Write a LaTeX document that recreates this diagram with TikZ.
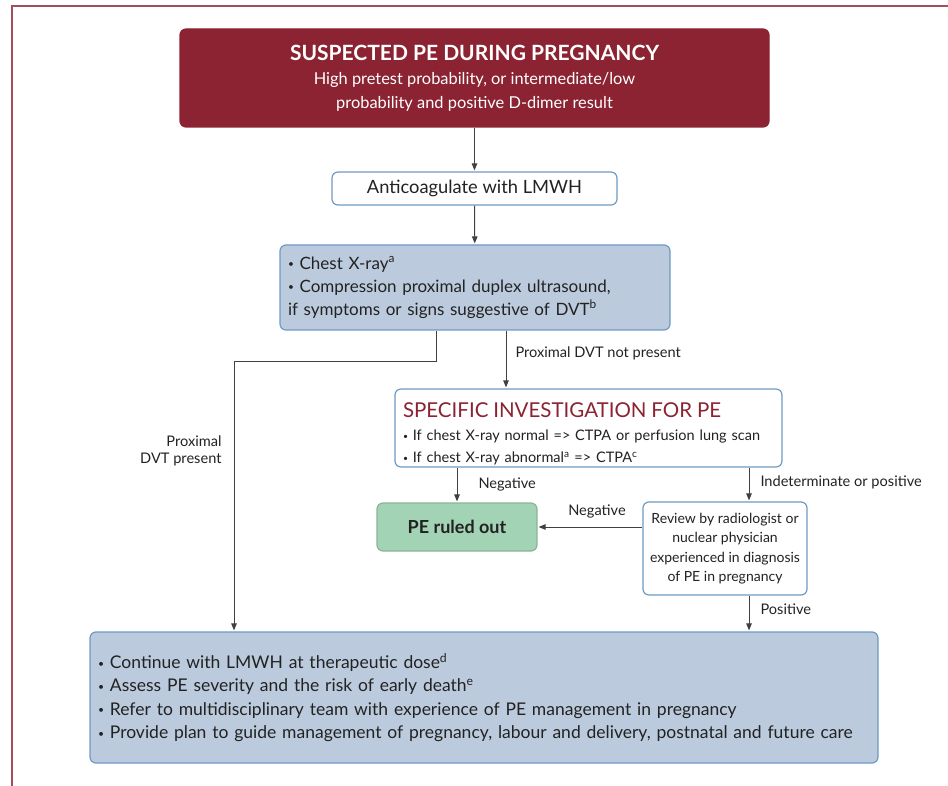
\documentclass[tikz,border=0pt]{standalone}
\usepackage{fontspec}
\setmainfont{Lato}
\usetikzlibrary{arrows.meta}
\definecolor{pered}{HTML}{8C2332}
\definecolor{peblue}{HTML}{BBCBDD}
\definecolor{peline}{HTML}{6E9BC4}
\definecolor{pegreen}{HTML}{A3D3B5}
\definecolor{petext}{HTML}{222222}
\newcommand{\pebul}{\raisebox{0.15ex}{\scalebox{0.6}{\textbullet}}\ }

\begin{document}
\begin{tikzpicture}[x=1pt,y=-1pt,shorten >=1pt,->,>={Triangle[length=7pt,width=5.5pt]},draw=black!75,line width=1pt]
    \tikzstyle{box}=[rectangle,rounded corners=6pt,draw=peline,line width=1.2pt,inner sep=0pt,text=petext]
    \tikzstyle{red box}=[box,fill=pered,draw=pered,text=white]
    \tikzstyle{white box}=[box,fill=white]
    \tikzstyle{blue box}=[box,fill=peblue]
    \tikzstyle{green box}=[box,fill=pegreen,draw=pegreen!85!black]
    \tikzstyle{annot}=[font=\fontsize{14.6}{17}\selectfont,text=petext,inner sep=0pt]

    \useasboundingbox (0,0) rectangle (948,786);
    % Draw the frame
    \draw[-,shorten >=0pt,draw=pered!80,line width=1.2pt] (12,786) -- (12,6) -- (948,6);

    % Draw the boxes
    \node[red box,minimum width=589,minimum height=98,align=center,font=\fontsize{16.4}{24}\selectfont] (suspect) at (474.5,78)
        {{\fontsize{21}{24}\selectfont\bfseries SUSPECTED PE DURING PREGNANCY}\\
         High pretest probability, or intermediate/low\\
         probability and positive D-dimer result};
    \node[white box,minimum width=285,minimum height=33,font=\fontsize{18.3}{20}\selectfont] (anticoag) at (474.5,188.5)
        {Anticoagulate with LMWH};
    \node[blue box,minimum width=390,minimum height=85,text width=374,align=left,font=\fontsize{17}{23}\selectfont] (xray) at (475,287.5)
        {\pebul Chest X-ray\textsuperscript{a}\\
         \pebul Compression proximal duplex ultrasound,\\
         if symptoms or signs suggestive of DVT\textsuperscript{b}};
    \node[white box,minimum width=387,minimum height=78,text width=371,align=left,font=\fontsize{14.5}{22.5}\selectfont] (spec) at (588.5,428)
        {\rule{0pt}{27pt}{\fontsize{20.5}{22}\selectfont\color{pered} SPECIFIC INVESTIGATION FOR PE}\\
         \pebul If chest X-ray normal => CTPA or perfusion lung scan\\
         \pebul If chest X-ray abnormal\textsuperscript{a} => CTPA\textsuperscript{c}};
    \node[green box,minimum width=160,minimum height=48,font=\fontsize{18}{20}\selectfont\bfseries] (ruled) at (457,527)
        {PE ruled out};
    \node[white box,minimum width=164,minimum height=93,align=center,font=\fontsize{14}{19.5}\selectfont] (review) at (725,548.5)
        {Review by radiologist or\\nuclear physician\\experienced in diagnosis\\of PE in pregnancy};
    \node[blue box,minimum width=788,minimum height=131,text width=772,align=left,font=\fontsize{17.5}{23.4}\selectfont] (manage) at (484,697.5)
        {\pebul Continue with LMWH at therapeutic dose\textsuperscript{d}\\
         \pebul Assess PE severity and the risk of early death\textsuperscript{e}\\
         \pebul Refer to multidisciplinary team with experience of PE management in pregnancy\\
         \pebul Provide plan to guide management of pregnancy, labour and delivery, postnatal and future care};

    % Connector end points
    \coordinate (xr-l) at ([xshift=-39pt]xray.south);
    \coordinate (xr-r) at ([xshift=31pt]xray.south);
    \coordinate (bend) at (234,362);
    \coordinate (rv-t) at ([xshift=24pt]review.north);
    \coordinate (rv-b) at ([xshift=24pt]review.south);

    % Connect the boxes
    \draw (suspect) -- (anticoag);
    \draw (anticoag) -- (xray);
    \draw (xr-l) |- (bend) -- (bend |- manage.north);
    \draw (xr-r) -- (xr-r |- spec.north);
    \draw (ruled.north |- spec.south) -- (ruled.north);
    \draw (rv-t |- spec.south) -- (rv-t);
    \draw (review.west |- ruled.east) -- (ruled.east);
    \draw (rv-b) -- (rv-b |- manage.north);

    % Annotate the connectors
    \node[annot,anchor=west] (notpresent) at (515,353) {Proximal DVT not present};
    \node[annot,anchor=east,align=right] (present) at (222,451) {Proximal\\DVT present};
    \node[annot,anchor=west] (neg-a) at (478,484) {Negative};
    \node[annot,anchor=west] (indet) at (760,482) {Indeterminate or positive};
    \node[annot] (neg-b) at (597,511) {Negative};
    \node[annot,anchor=west] (pos) at (760,609) {Positive};
\end{tikzpicture}
\end{document}
